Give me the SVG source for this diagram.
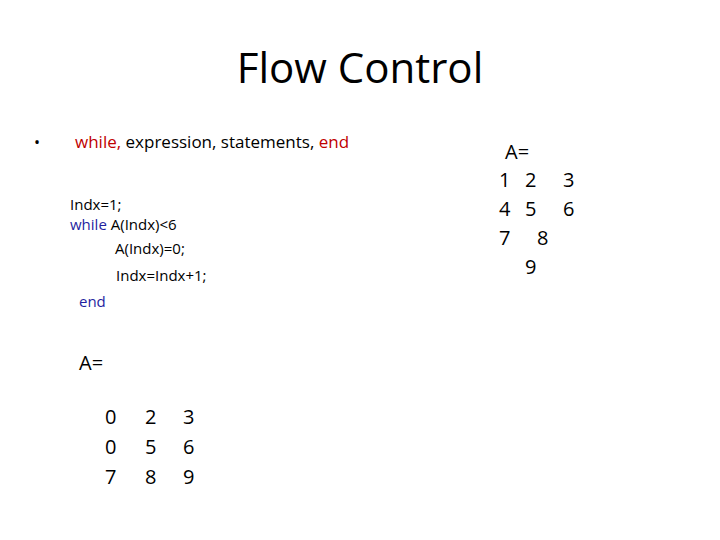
<svg xmlns="http://www.w3.org/2000/svg" width="720" height="540" viewBox="0 0 720 540">
<style>
text{font-family:"Open Sans","Liberation Sans",sans-serif;fill:#000}
.r{fill:#c00000}.b{fill:#1f1f9f}
.c{font-size:15px}.m{font-size:20px}
</style>
<rect width="720" height="540" fill="#fff"/>
<text x="360" y="83" font-size="42" text-anchor="middle">Flow Control</text>
<text x="34" y="148" font-size="16">•</text>
<text x="75" y="148" font-size="17"><tspan class="r">while,</tspan> expression, statements, <tspan class="r">end</tspan></text>
<g class="c">
<text x="70" y="210" class="c">Indx=1;</text>
<text x="70" y="230" class="c"><tspan class="b">while</tspan> A(Indx)&lt;6</text>
<text x="115" y="254" class="c">A(Indx)=0;</text>
<text x="116" y="281" class="c">Indx=Indx+1;</text>
<text x="79" y="307" class="c b">end</text>
</g>
<g class="m">
<text x="79" y="370" class="m">A=</text>
<text x="105" y="424" class="m">0</text><text x="145" y="424" class="m">2</text><text x="183" y="424" class="m">3</text>
<text x="105" y="454" class="m">0</text><text x="145" y="454" class="m">5</text><text x="183" y="454" class="m">6</text>
<text x="105" y="484" class="m">7</text><text x="145" y="484" class="m">8</text><text x="183" y="484" class="m">9</text>
<text x="505" y="159" class="m">A=</text>
<text x="499" y="187" class="m">1</text><text x="525" y="187" class="m">2</text><text x="563" y="187" class="m">3</text>
<text x="499" y="216" class="m">4</text><text x="525" y="216" class="m">5</text><text x="563" y="216" class="m">6</text>
<text x="499" y="245" class="m">7</text><text x="537" y="245" class="m">8</text>
<text x="525" y="274" class="m">9</text>
</g>
</svg>
